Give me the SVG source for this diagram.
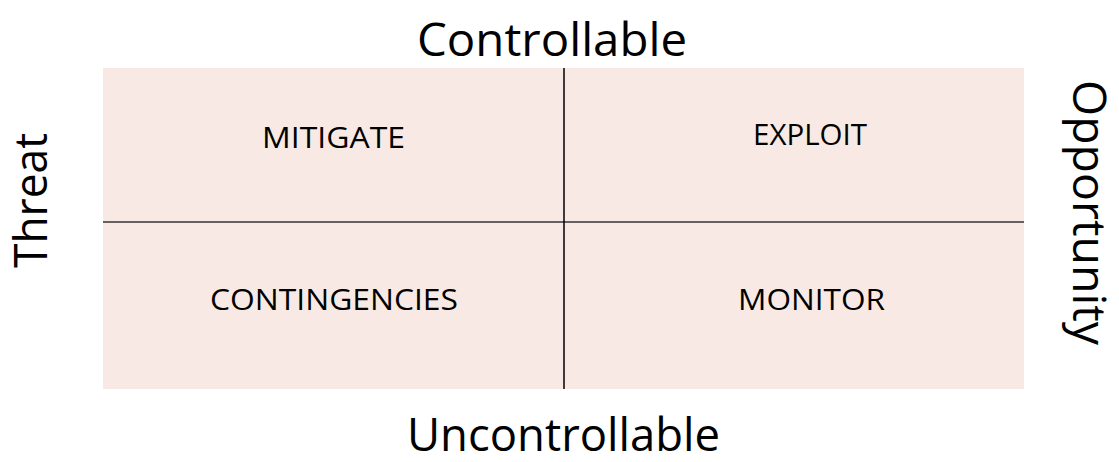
<svg xmlns="http://www.w3.org/2000/svg" width="1119" height="462" viewBox="0 0 1119 462">
<style>
text{font-family:"Open Sans","Liberation Sans",sans-serif;fill:#000}
.q{font-size:29px}
.ax{font-size:45px}
</style>
<rect width="1119" height="462" fill="#fff"/>
<g id="grid">
<rect x="103" y="68" width="921" height="321" fill="#F9E9E5"/>
</g>
<g id="connectors">
<line x1="103" y1="222" x2="1024" y2="222" stroke="#333" stroke-width="1.5"/>
<line x1="564" y1="68" x2="564" y2="389" stroke="#000" stroke-width="1.5"/>
</g>
<g id="mitigate"><text class="q" x="262" y="148" textLength="143" lengthAdjust="spacingAndGlyphs">MITIGATE</text></g>
<g id="exploit"><text class="q" x="753" y="145" textLength="114" lengthAdjust="spacingAndGlyphs">EXPLOIT</text></g>
<g id="contingencies"><text class="q" x="210" y="310" textLength="248" lengthAdjust="spacingAndGlyphs">CONTINGENCIES</text></g>
<g id="monitor"><text class="q" x="738" y="310" textLength="147" lengthAdjust="spacingAndGlyphs">MONITOR</text></g>
<g id="controllable"><text class="ax" x="417" y="56" textLength="270" lengthAdjust="spacingAndGlyphs">Controllable</text></g>
<g id="uncontrollable"><text class="ax" x="407" y="451" font-size="43" textLength="313" lengthAdjust="spacingAndGlyphs">Uncontrollable</text></g>
<g id="threat"><text class="ax" transform="translate(47,268) rotate(-90)" textLength="135" lengthAdjust="spacingAndGlyphs">Threat</text></g>
<g id="opportunity"><text class="ax" transform="translate(1073,80) rotate(90)" textLength="265" lengthAdjust="spacingAndGlyphs">Opportunity</text></g>
</svg>
